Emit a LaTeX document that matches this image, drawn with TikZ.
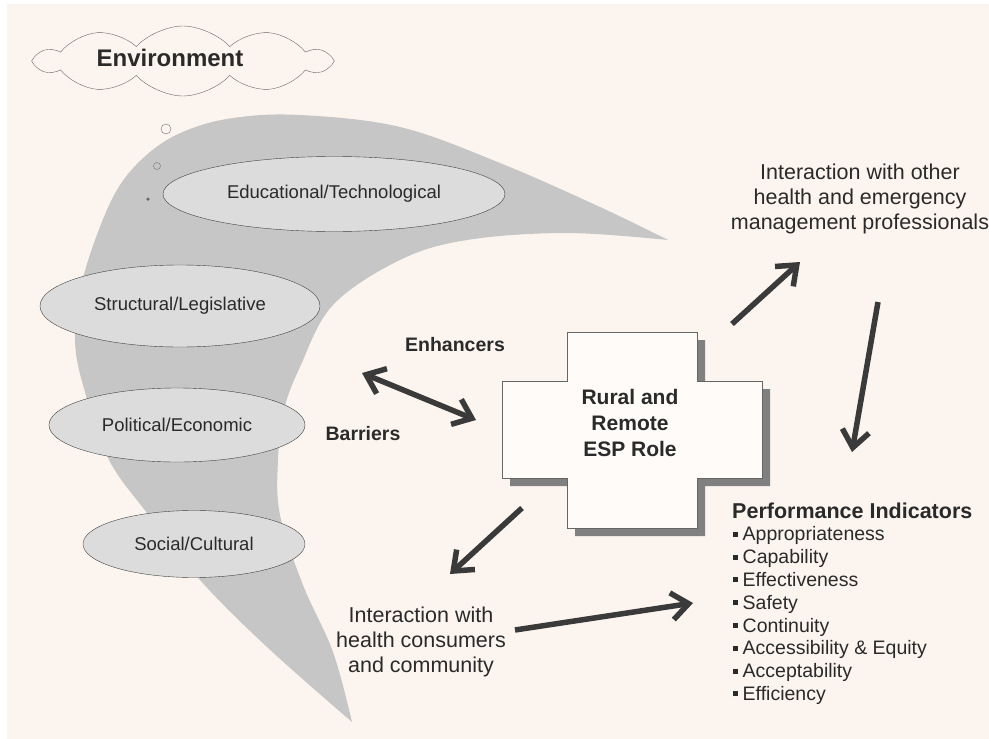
\documentclass[tikz,border=0pt]{standalone}
\usepackage{fontspec}
\setmainfont{Liberation Sans}
\usetikzlibrary{shapes.geometric,shapes.symbols,arrows.meta}
\definecolor{bg}{HTML}{FCF5EF}
\definecolor{swoosh}{HTML}{C6C6C6}
\definecolor{ellfill}{HTML}{DCDCDC}
\definecolor{ink}{HTML}{2A2A2A}
\definecolor{arrgrey}{HTML}{3A3A3A}
\newcommand{\espcross}{(567,332) -- (697,332) -- (697,381) -- (762,381) -- (762,478) -- (697,478) -- (697,528) -- (567,528) -- (567,478) -- (502,478) -- (502,381) -- (567,381) -- cycle}

\begin{document}
\begin{tikzpicture}[x=1pt, y=-1pt,
  ell/.style = {draw=black!75, fill=ellfill, ellipse, inner sep=0pt, text=ink, font=\fontsize{18.5}{22}\selectfont},
  txt/.style = {align=center, text=ink, font=\fontsize{21.5}{25}\selectfont},
  bold/.style = {text=ink, font=\bfseries\fontsize{19.5}{23}\selectfont},
  bubble/.style = {circle, draw=black!55, inner sep=0pt},
  item/.style = {anchor=base west, inner sep=0pt, text=ink, font=\fontsize{19.5}{23}\selectfont},
  barb/.tip = {Straight Barb[length=17pt, width=27pt]},
  arr/.style = {draw=arrgrey, line width=5.5pt, -barb}]
\useasboundingbox (0,0) rectangle (989,739);
\fill[white] (0,0) rectangle (989,739);
\fill[bg] (7,4) rectangle (989,739);

% environment swoosh
\fill[swoosh] plot[smooth, tension=0.6] coordinates {(668,240) (600,207) (500,163) (400,127) (300,115) (233,118) (185,131) (150,152) (120,185) (98,232) (80,290) (75,340) (83,385) (108,458) (147,513) (200,580) (267,647) (352,722)}
  -- plot[smooth, tension=0.6] coordinates {(352,722) (333,652) (303,585) (280,515) (278,460) (284,410) (300,367) (333,305) (400,260) (467,240) (567,233) (668,240)} -- cycle;

\node[cloud, cloud puffs=10, cloud puff arc=95, aspect=4.2, draw=black!60, fill=bg, minimum width=292pt, minimum height=70pt] (env) at (183,61) {};
\node[text=ink, font=\bfseries\fontsize{24}{28}\selectfont] (envlabel) at (170,58) {Environment};
\node[bubble, minimum size=10pt] (b1) at (166,129) {};
\node[bubble, minimum size=7pt] (b2) at (157,166) {};
\node[bubble, fill=black!60, draw=none, minimum size=3.5pt] (b3) at (148,199) {};

\node[ell, minimum width=342pt, minimum height=75pt] (edu) at (334,194) {Educational/Technological};
\node[ell, minimum width=280pt, minimum height=82pt] (str) at (180,306) {Structural/Legislative};
\node[ell, minimum width=256pt, minimum height=74pt] (pol) at (177,425) {Political/Economic};
\node[ell, minimum width=222pt, minimum height=67pt] (soc) at (194,544) {Social/Cultural};

% ESP role cross
\fill[black!50] [shift={(8,8)}] \espcross;
\filldraw[draw=black!60, fill=bg!40!white] \espcross;
\node[align=center, text=ink, font=\bfseries\fontsize{21}{26}\selectfont] (role) at (630,423) {Rural and\\Remote\\ESP Role};

\node[bold] (enh) at (455,345) {Enhancers};
\node[bold] (bar) at (363,434) {Barriers};

\node[txt] (prof) at (860,199) {Interaction with other\\health and emergency\\management professionals};
\node[txt] (cons) at (421,642) {Interaction with\\health consumers\\and community};

\node[anchor=base west, inner sep=0pt, text=ink, font=\bfseries\fontsize{21.5}{25}\selectfont] (perf) at (732,518) {Performance Indicators};
\foreach \lbl [count=\i] in {Appropriateness, Capability, Effectiveness, Safety, Continuity, Accessibility \& Equity, Acceptability, Efficiency}
  \node[item] (pi\i) at (733,{518+22.8*\i}) {\raisebox{4pt}{\rule{5pt}{5pt}}\hspace{4.5pt}\lbl};

% connectors
\coordinate (d1) at (362,373);
\coordinate (d2) at (476,420);
\coordinate (u1) at (732,324);
\coordinate (u2) at (800,262);
\coordinate (r1) at (878,302);
\coordinate (r2) at (852,452);
\coordinate (l1) at (522,508);
\coordinate (l2) at (450,574);
\coordinate (c1) at (515,630);
\coordinate (c2) at (693,603);
\draw[arr, barb-barb] (d1) -- (d2);
\draw[arr] (u1) -- (u2);
\draw[arr] (r1) -- (r2);
\draw[arr] (l1) -- (l2);
\draw[arr] (c1) -- (c2);
\end{tikzpicture}
\end{document}
